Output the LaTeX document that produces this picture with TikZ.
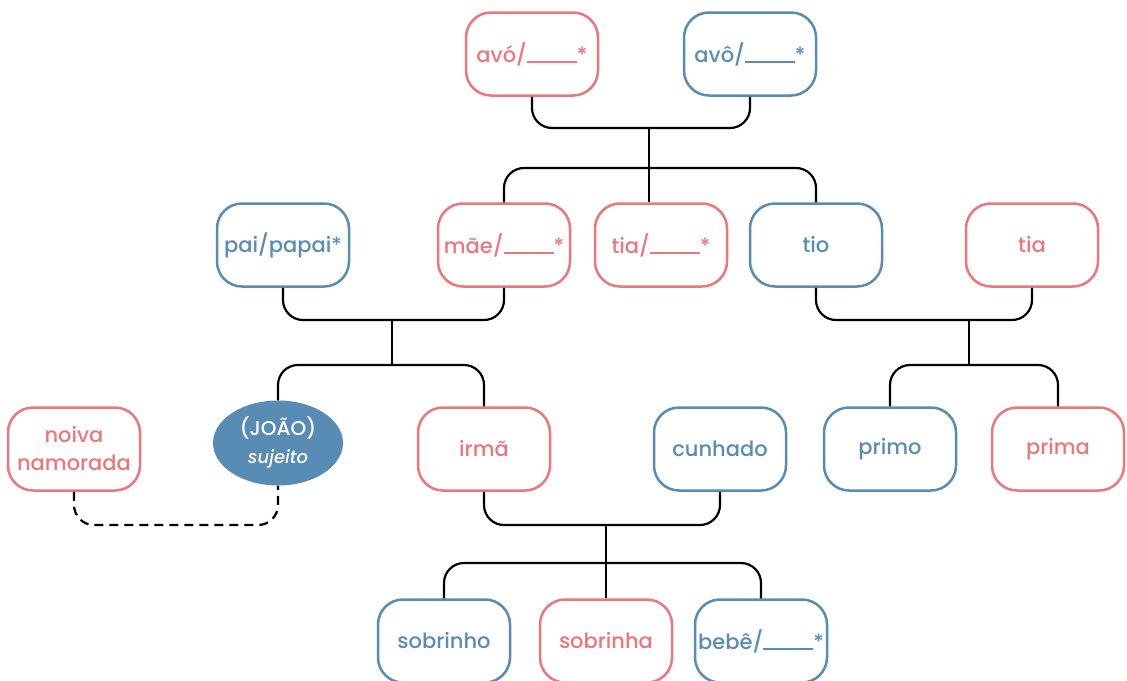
\documentclass[tikz,border=0pt]{standalone}
\usepackage{fontspec}
\setmainfont{Poppins}[UprightFont=* Medium, ItalicFont=* Medium Italic]
\usetikzlibrary{shapes.geometric}
\definecolor{pk}{RGB}{236,118,124}
\definecolor{bl}{RGB}{88,140,180}
\newcommand\blank{\rule[-0.5pt]{50pt}{1.3pt}}
\begin{document}
\begin{tikzpicture}[x=1pt,y=-1pt,
  box/.style={draw, line width=2.5pt, rounded corners=25pt, minimum width=132pt, minimum height=83pt, inner sep=2pt, font=\fontsize{21}{23}\selectfont, align=center},
  pkbox/.style={box, draw=pk, text=pk},
  blbox/.style={box, draw=bl, text=bl},
  conn/.style={line width=2.2pt, rounded corners=20pt}]
\useasboundingbox (0,0) rectangle (1127,680);
\node[pkbox] (avoF) at (532,54) {avó/\blank*};
\node[blbox] (avoM) at (750,54) {avô/\blank*};
\node[blbox] (pai) at (283,245) {pai/papai*};
\node[pkbox] (mae) at (504,245) {mãe/\blank*};
\node[pkbox] (tiaA) at (661,245) {tia/\blank*};
\node[blbox] (tio) at (816,245) {tio};
\node[pkbox] (tiaB) at (1032,245) {tia};
\node[pkbox] (noiva) at (74,449) {noiva\\[5pt]namorada};
\node[fill=bl, ellipse, minimum width=130pt, minimum height=85pt, inner sep=0pt, text=white, align=center, font=\fontsize{20}{22}\selectfont] (joao) at (278,443) {(JOÃO)\\[6pt]{\itshape\fontsize{18}{20}\selectfont sujeito}};
\node[pkbox] (irma) at (484,449) {irmã};
\node[blbox] (cunhado) at (720,449) {cunhado};
\node[blbox] (primo) at (890,449) {primo};
\node[pkbox] (prima) at (1058,449) {prima};
\node[blbox] (sobrinho) at (444,641) {sobrinho};
\node[pkbox] (sobrinha) at (606,641) {sobrinha};
\node[blbox] (bebe) at (761,641) {bebê/\blank*};
\coordinate (c1) at (649,128);
\coordinate (c2) at (649,168);
\coordinate (c3) at (392,320);
\coordinate (c4) at (392,365);
\coordinate (c5) at (969,320);
\coordinate (c6) at (969,365);
\coordinate (c7) at (606,525);
\coordinate (c8) at (606,563);
\coordinate (c9) at (176,525);
\draw[conn] (avoF.south) |- (c1) -| (avoM.south);
\draw[conn] (c1) -- (c2);
\draw[conn] (mae.north) |- (c2) -| (tio.north);
\draw[conn] (c2) -- (tiaA.north -| c2);
\draw[conn] (pai.south) |- (c3) -| (mae.south);
\draw[conn] (c3) -- (c4);
\draw[conn] (joao.north) |- (c4) -| (irma.north);
\draw[conn] (tio.south) |- (c5) -| (tiaB.south);
\draw[conn] (c5) -- (c6);
\draw[conn] (primo.north) |- (c6) -| (prima.north);
\draw[conn] (irma.south) |- (c7) -| (cunhado.south);
\draw[conn] (c7) -- (c8);
\draw[conn] (sobrinho.north) |- (c8) -| (bebe.north);
\draw[conn] (c8) -- (sobrinha.north);
\draw[conn, dash pattern=on 9pt off 6pt] (noiva.south) |- (c9) -| (joao.south);
\end{tikzpicture}
\end{document}
